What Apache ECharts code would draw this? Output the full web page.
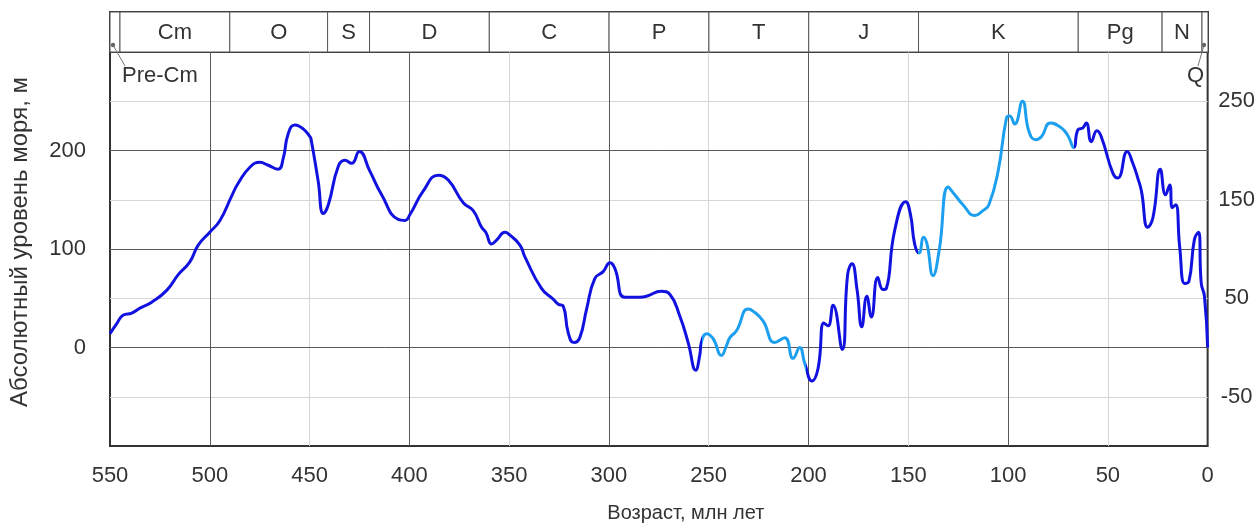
<!DOCTYPE html>
<html>
<head>
<meta charset="utf-8">
<script src="https://cdn.jsdelivr.net/npm/echarts@6/dist/echarts.min.js"></script>
<style>
html,body{margin:0;padding:0;background:#fff;overflow:hidden;}
#chart{width:1258px;height:528px;}
</style>
</head>
<body>
<div id="chart"></div>
<script>
// Age (Ma) and sea level (m)
var ages = [550, 546.7, 543.3, 539.1, 535, 529.1, 521.6, 515.8, 510, 505.8, 500, 494.9, 489, 485.7, 479.9, 474.9, 470.7, 465.7, 463.2, 460.7, 457.3, 453.2, 449.8, 449.2, 445.7, 443.1, 440.6, 435.6, 432.3, 428.9, 425.1, 419.8, 413.9, 405.6, 402.2, 399.7, 393, 385.5, 380.5, 373, 368, 363.8, 361.7, 358.8, 356.3, 352.1, 349.6, 344.6, 342.1, 333.8, 327.9, 325.4, 322.9, 320.4, 317.6, 314.6, 311.2, 307.1, 302.9, 299.5, 297, 292, 284.5, 281.2, 273.7, 269.5, 264.5, 260.3, 256.5, 254.5, 253.7, 251.1, 247.8, 243.6, 241.1, 239.4, 236.1, 230.3, 227.8, 222.8, 216.9, 211.9, 207.7, 204.4, 201.9, 198.3, 195.2, 192.3, 190.2, 187.7, 183.1, 180.4, 178.2, 175.7, 173.3, 170.8, 168.5, 165.3, 162.7, 161, 156.8, 151.3, 148.9, 146.8, 144.6, 142.3, 140.6, 137.6, 134.5, 130, 126.7, 122.6, 116.7, 112.6, 109.6, 105, 100.8, 99.2, 96.7, 92.8, 89.5, 86.2, 83.3, 78.8, 73.3, 70, 67.1, 65, 62.5, 60.8, 58.3, 55.5, 53.3, 47.5, 45, 40.3, 37.5, 35, 33.2, 30, 27.4, 23.7, 21.1, 19, 17.7, 16, 14, 11.5, 9.4, 6.6, 4.6, 3.2, 1.6, 0];
var levels = [14, 24, 33, 35, 40, 46, 58, 74, 87, 104, 117, 129, 154, 167, 183, 188, 185, 181, 192, 217, 226, 222, 214, 211, 169, 136, 145, 184, 190, 187, 199, 179, 155, 130, 129, 135, 159, 175, 170, 147, 139, 122, 117, 105, 109, 117, 114, 104, 92, 60, 49, 44, 42, 15, 5, 10, 39, 70, 77, 86, 80, 51, 51, 52, 57, 54, 32, 5, -23, -8, 5, 14, 9, -8, 2, 10, 17, 39, 37, 27, 5, 10, -11, 0, -16, -34, -21, 25, 22, 43, -2, 74, 85, 59, 21, 52, 31, 71, 59, 60, 119, 148, 135, 105, 96, 112, 105, 73, 99, 163, 155, 145, 134, 139, 145, 179, 233, 235, 227, 250, 219, 211, 214, 228, 223, 215, 203, 221, 223, 228, 209, 220, 214, 177, 172, 199, 187, 172, 159, 122, 132, 181, 155, 165, 142, 145, 102, 65, 67, 110, 117, 65, 52, 0];

// Geological periods
var periodNames = ['Pre-Cm', 'Cm', 'O', 'S', 'D', 'C', 'P', 'T', 'J', 'K', 'Pg', 'N', 'Q'];
var periodStarts = [550, 545, 490, 441, 420, 360, 300, 250, 200, 145, 65, 23, 3];
var periodEnds = [545, 490, 441, 420, 360, 300, 250, 200, 145, 65, 23, 3, 0];

// Age ranges drawn in light blue
var lightFrom = [253.5, 145];
var lightTo = [201.5, 67];

var DARK = '#1212e0';
var LIGHT = '#1c9fee';
var TXT = '#333';
var FONT = '"Liberation Sans", Arial, sans-serif';

var lineData = ages.map(function (a, i) { return [a, levels[i]]; });
var periodData = periodNames.map(function (n, i) { return [periodStarts[i], periodEnds[i], i]; });
var pieces = lightFrom.map(function (f, i) { return { gt: lightTo[i], lte: f, color: LIGHT }; });

var chart = echarts.init(document.getElementById('chart'), null, { renderer: 'canvas' });
chart.setOption({
  animation: false,
  backgroundColor: '#fff',
  grid: [
    { left: 110, width: 1098, top: 52, height: 400, show: true, borderColor: '#333', borderWidth: 2, backgroundColor: 'transparent' },
    { left: 110, width: 1098, top: 12, height: 40, show: true, borderColor: '#333', borderWidth: 2, backgroundColor: 'transparent' }
  ],
  xAxis: [
    {
      gridIndex: 0, type: 'value', min: 0, max: 550, interval: 50, inverse: true, position: 'bottom',
      axisLine: { show: false }, axisTick: { show: false },
      axisLabel: { color: TXT, fontSize: 22, fontFamily: FONT, margin: 19 },
      splitLine: { show: true, showMinLine: false, showMaxLine: false, lineStyle: { color: '#d6d6d6', width: 1 } },
      name: 'Возраст, млн лет', nameLocation: 'middle', nameGap: 57,
      nameTextStyle: { color: TXT, fontSize: 20, fontFamily: FONT, padding: [0, 0, 0, 54] }
    },
    {
      gridIndex: 0, type: 'value', min: 0, max: 550, interval: 100, inverse: true, position: 'top', z: 1,
      axisLine: { show: false }, axisTick: { show: false }, axisLabel: { show: false },
      splitLine: { show: true, showMinLine: false, showMaxLine: false, lineStyle: { color: '#5a5a5a', width: 1 } }
    },
    {
      gridIndex: 1, type: 'value', min: 0, max: 550, inverse: true, show: false
    }
  ],
  yAxis: [
    {
      gridIndex: 0, type: 'value', min: -100, max: 300, interval: 100, position: 'left', z: 1,
      axisLine: { show: false }, axisTick: { show: false },
      axisLabel: { color: TXT, fontSize: 22, fontFamily: FONT, margin: 24,
        formatter: function (v) { return (v === -100 || v === 300) ? '' : String(v); } },
      splitLine: { show: true, showMinLine: false, showMaxLine: false, lineStyle: { color: '#5a5a5a', width: 1 } },
      name: 'Абсолютный уровень моря, м', nameLocation: 'middle', nameGap: 78, nameRotate: 90,
      nameTextStyle: { color: TXT, fontSize: 24, fontFamily: FONT, padding: [0, 0, 0, 14] }
    },
    {
      gridIndex: 0, type: 'value', min: -100, max: 300, interval: 50, position: 'right', z: 0,
      axisLine: { show: false }, axisTick: { show: false },
      axisLabel: { color: TXT, fontSize: 22, fontFamily: FONT, margin: 29, align: 'center',
        formatter: function (v) { return (v % 100 !== 0) ? String(v) : ''; } },
      splitLine: { show: true, showMinLine: false, showMaxLine: false, lineStyle: { color: '#d6d6d6', width: 1 } }
    },
    {
      gridIndex: 1, type: 'value', min: 0, max: 1, show: false
    }
  ],
  visualMap: {
    type: 'piecewise', show: false, dimension: 0, seriesIndex: 0,
    pieces: pieces, outOfRange: { color: DARK }
  },
  series: [
    {
      type: 'line', xAxisIndex: 0, yAxisIndex: 0, data: lineData,
      showSymbol: false, smooth: 0.5, z: 5,
      lineStyle: { width: 3 }
    },
    {
      type: 'custom', xAxisIndex: 2, yAxisIndex: 2, data: periodData, clip: false, z: 6,
      renderItem: function (params, api) {
        var s = api.value(0), e = api.value(1), idx = api.value(2);
        var p0 = api.coord([s, 1]);
        var p1 = api.coord([e, 0]);
        var x = Math.min(p0[0], p1[0]);
        var w = Math.abs(p1[0] - p0[0]);
        var y = p0[1], h = p1[1] - p0[1];
        var name = periodNames[idx];
        var children = [{
          type: 'rect', shape: { x: x, y: y, width: w, height: h },
          style: { fill: '#fff', stroke: '#555', lineWidth: 1 }
        }];
        if (w > 25) {
          children.push({ type: 'text', style: { text: name, x: x + w / 2, y: y + h / 2 + 1, align: 'center', verticalAlign: 'middle', fill: TXT, font: '22px ' + FONT } });
        } else {
          var leftSide = x < 600;
          var cx = x + w / 2 - (leftSide ? 2 : 1);
          var cy = y + h - 7;
          var ex = leftSide ? cx + 12 : cx - 6;
          var ey = cy + 21;
          children.push({ type: 'line', shape: { x1: cx, y1: cy, x2: ex, y2: ey }, style: { stroke: '#777', lineWidth: 1 } });
          children.push({ type: 'circle', shape: { cx: cx, cy: cy, r: 2.2 }, style: { fill: '#666' } });
          children.push({ type: 'text', style: { text: name, x: leftSide ? cx + 9 : cx, y: cy + 31, align: leftSide ? 'left' : 'right', verticalAlign: 'middle', fill: TXT, font: '22px ' + FONT } });
        }
        return { type: 'group', children: children };
      }
    }
  ]
});
</script>
</body>
</html>
